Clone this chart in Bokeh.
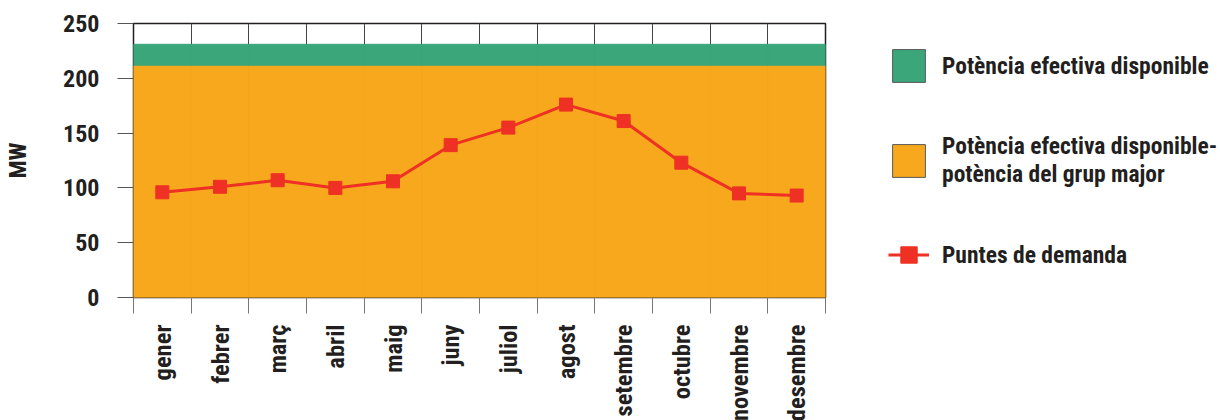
from math import pi
from bokeh.plotting import figure
from bokeh.models import Range1d, FixedTicker, Legend, LegendItem
from bokeh.embed import file_html
from bokeh.resources import INLINE

# ---- data ----
months = ["gener", "febrer", "març", "abril", "maig", "juny", "juliol",
          "agost", "setembre", "octubre", "novembre", "desembre"]
demand = [96, 101, 107, 100, 106, 139, 155, 176, 161, 123, 95, 93]
available = [231, 231, 231, 231, 231, 231, 231, 231, 231, 231, 231, 231]
available_minus_major = [211, 211, 211, 211, 211, 211, 211, 211, 211, 211, 211, 211]
y_ticks = [0, 50, 100, 150, 200, 250]

label_avail = "Potència efectiva disponible"
label_minus = "Potència efectiva disponible-\npotència del grup major"
label_demand = "Puntes de demanda"

# ---- style ----
FONT = "Roboto Condensed"
TEXT = "#231f20"
GREEN = "#3aa67a"
ORANGE = "#f8a81d"
RED = "#ee3124"

idx = list(range(len(months)))
left = [i for i in idx]
right = [i + 1 for i in idx]
centers = [i + 0.5 for i in idx]
zeros = [0 for _ in idx]

p = figure(frame_width=692, frame_height=274, x_range=Range1d(0, len(months)),
           y_range=Range1d(y_ticks[0], y_ticks[-1]),
           output_backend="svg", toolbar_location=None,
           min_border_left=133, min_border_right=393,
           min_border_top=23, min_border_bottom=100)

p.quad(left=left, right=right, bottom=available_minus_major, top=available,
       fill_color=GREEN, line_color=GREEN, line_width=1)
p.quad(left=left, right=right, bottom=zeros, top=available_minus_major,
       fill_color=ORANGE, line_color=ORANGE, line_width=1)
ln = p.line(centers, demand, line_color=RED, line_width=3)
sc = p.scatter(centers, demand, marker="square", size=13, fill_color=RED, line_color=RED)

# hidden duplicates that only provide bordered legend swatches
g_proxy = p.quad(left=left, right=right, bottom=available_minus_major, top=available,
                 fill_color=GREEN, line_color="#5a5a5a", line_width=1, visible=False)
o_proxy = p.quad(left=left, right=right, bottom=zeros, top=available_minus_major,
                 fill_color=ORANGE, line_color="#5a5a5a", line_width=1, visible=False)

# x axis: labels centred on months, tick marks at month boundaries
xa = p.xaxis[0]
xa.ticker = FixedTicker(ticks=centers, minor_ticks=[i for i in range(len(months) + 1)])
xa.major_label_overrides = {c: m for c, m in zip(centers, months)}
xa.major_tick_line_color = None
xa.major_tick_out = 0
xa.major_tick_in = 0
xa.minor_tick_in = 0
xa.minor_tick_out = 16
xa.minor_tick_line_color = "#777777"
xa.axis_line_color = None
xa.major_label_orientation = pi / 2
xa.major_label_standoff = 11
xa.major_label_text_font = FONT
xa.major_label_text_font_style = "bold"
xa.major_label_text_font_size = "24.5px"
xa.major_label_text_color = TEXT

ya = p.yaxis[0]
ya.ticker = FixedTicker(ticks=y_ticks, minor_ticks=[])
ya.major_tick_in = 0
ya.major_tick_out = 16
ya.major_tick_line_color = "#555555"
ya.axis_line_color = None
ya.major_label_standoff = 18
ya.major_label_text_font = FONT
ya.major_label_text_font_style = "bold"
ya.major_label_text_font_size = "24px"
ya.major_label_text_color = TEXT
ya.axis_label = "MW"
ya.axis_label_text_font = FONT
ya.axis_label_text_font_style = "bold"
ya.axis_label_text_font_size = "24px"
ya.axis_label_text_color = TEXT
ya.axis_label_standoff = 28

p.ygrid.grid_line_color = None
p.xgrid.ticker = FixedTicker(ticks=[i for i in range(len(months) + 1)])
p.xgrid.grid_line_color = "#444444"
p.xgrid.grid_line_width = 1

p.outline_line_color = TEXT
p.outline_line_width = 1.5
p.background_fill_color = "white"
p.border_fill_color = "white"

lg = Legend(items=[LegendItem(label=label_avail, renderers=[g_proxy]),
                   LegendItem(label=label_minus, renderers=[o_proxy]),
                   LegendItem(label=label_demand, renderers=[ln, sc])],
            location=(63, 22), glyph_width=41, glyph_height=41,
            label_standoff=13, padding=0, margin=0, spacing=46,
            border_line_color=None, background_fill_alpha=0,
            label_text_font=FONT, label_text_font_style="bold",
            label_text_font_size="23.5px", label_text_color=TEXT,
            label_text_line_height=0.85)
p.add_layout(lg, "right")

open("out.html", "w").write(file_html(p, INLINE))
